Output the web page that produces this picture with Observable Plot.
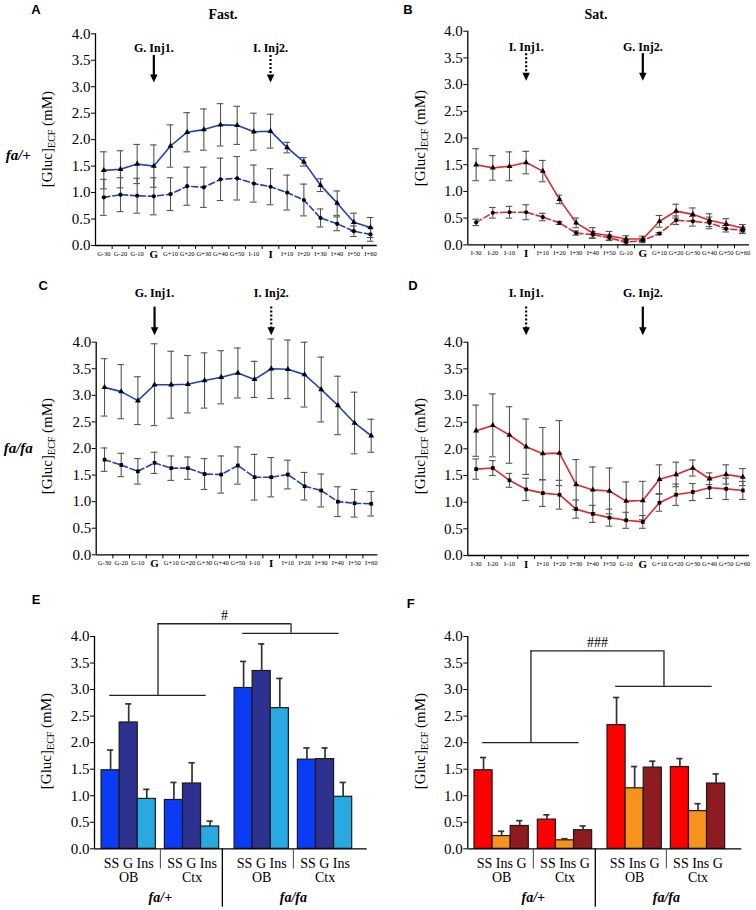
<!DOCTYPE html>
<html><head><meta charset="utf-8">
<script src="https://cdn.jsdelivr.net/npm/d3@7"></script>
<script src="https://cdn.jsdelivr.net/npm/@observablehq/plot@0.6"></script>
<style>
body{margin:0;background:#fff;}
#fig{position:relative;width:756px;height:910px;overflow:hidden;font-family:"Liberation Serif",serif;color:#000;}
#fig svg, #fig svg text{font-family:"Liberation Serif",serif !important;}
.pan{position:absolute;}
.lbl{position:absolute;white-space:nowrap;line-height:1;}
.letter{font-family:"Liberation Sans",Arial,sans-serif;font-weight:bold;font-size:13px;}
.ylab{font-size:15px;transform:translate(-50%,-50%) rotate(-90deg);}
.ylab sub{font-size:10px;vertical-align:-3px;}
</style></head><body><div id="fig"></div>
<script>
// ---------- data ----------
const fastLabels = ["G-30","G-20","G-10","G","G+10","G+20","G+30","G+40","G+50","I-10","I","I+10","I+20","I+30","I+40","I+50","I+60"];
const satLabels  = ["I-30","I-20","I-10","I","I+10","I+20","I+30","I+40","I+50","G-10","G","G+10","G+20","G+30","G+40","G+50","G+60"];

// A: fa/+ fasted
const aSolid     = [1.42,1.44,1.54,1.50,1.88,2.14,2.19,2.28,2.27,2.15,2.16,1.85,1.58,1.14,0.80,0.44,0.34];
const aSolidErr  = [0.35,0.35,0.37,0.40,0.40,0.37,0.39,0.40,0.36,0.35,0.32,0.10,0.08,0.12,0.23,0.17,0.19];
const aDashed    = [0.91,0.96,0.94,0.93,0.97,1.12,1.10,1.25,1.27,1.17,1.11,1.00,0.86,0.52,0.41,0.27,0.21];
const aDashedErr = [0.34,0.32,0.33,0.35,0.31,0.36,0.38,0.40,0.41,0.35,0.34,0.33,0.30,0.17,0.13,0.10,0.13];
// B: fa/+ satiated
const bSolid     = [1.50,1.44,1.47,1.54,1.38,0.85,0.41,0.22,0.17,0.11,0.11,0.44,0.63,0.57,0.46,0.39,0.31];
const bSolidErr  = [0.30,0.23,0.27,0.21,0.20,0.08,0.09,0.10,0.08,0.06,0.05,0.11,0.13,0.12,0.12,0.10,0.07];
const bDashed    = [0.42,0.60,0.61,0.61,0.52,0.41,0.22,0.19,0.13,0.05,0.08,0.21,0.46,0.44,0.41,0.30,0.27];
const bDashedErr = [0.06,0.10,0.11,0.14,0.07,0.03,0.04,0.06,0.05,0.05,0.04,0.02,0.08,0.09,0.11,0.06,0.06];
// C: fa/fa fasted
const cSolid     = [3.15,3.07,2.90,3.20,3.20,3.21,3.28,3.34,3.42,3.30,3.50,3.49,3.39,3.11,2.81,2.48,2.24];
const cSolidErr  = [0.54,0.51,0.45,0.77,0.63,0.54,0.52,0.50,0.47,0.34,0.56,0.55,0.61,0.61,0.55,0.58,0.31];
const cDashed    = [1.79,1.69,1.57,1.73,1.63,1.63,1.52,1.51,1.68,1.46,1.46,1.51,1.29,1.21,1.00,0.97,0.96];
const cDashedErr = [0.22,0.22,0.24,0.20,0.23,0.21,0.29,0.35,0.35,0.43,0.37,0.27,0.26,0.31,0.28,0.26,0.23];
// D: fa/fa satiated
const dUpper     = [2.34,2.44,2.26,2.04,1.91,1.92,1.33,1.23,1.21,1.02,1.03,1.43,1.52,1.64,1.44,1.52,1.47];
const dUpperErr  = [0.48,0.59,0.53,0.52,0.49,0.61,0.47,0.43,0.43,0.36,0.36,0.27,0.23,0.15,0.11,0.18,0.16];
const dLower     = [1.62,1.64,1.41,1.24,1.17,1.14,0.87,0.78,0.71,0.66,0.63,0.99,1.14,1.19,1.27,1.25,1.22];
const dLowerErr  = [0.19,0.14,0.13,0.21,0.25,0.27,0.17,0.16,0.16,0.15,0.12,0.16,0.20,0.16,0.20,0.20,0.17];

const fastEvents = [{i:3, text:"G. Inj1.", dotted:false}, {i:10, text:"I. Inj2.", dotted:true}];
const satEvents  = [{i:3, text:"I. Inj1.", dotted:true},  {i:10, text:"G. Inj2.", dotted:false}];

// E / F bars (order: fa/+ OB, fa/+ Ctx, fa/fa OB, fa/fa Ctx; conditions within)
const genotypes = ["fa/+","fa/fa"];
const regions = ["OB","Ctx"];
const eConds = ["SS","G","Ins"];
const eMean = [1.48,2.38,0.94, 0.92,1.23,0.42, 3.03,3.35,2.65, 1.68,1.69,0.98];
const eSem  = [0.38,0.35,0.18, 0.33,0.39,0.10, 0.50,0.51,0.56, 0.22,0.21,0.27];
const fConds = ["SS","Ins","G"];
const fMean = [1.48,0.24,0.43, 0.55,0.16,0.35, 2.33,1.14,1.53, 1.54,0.71,1.23];
const fSem  = [0.24,0.09,0.10, 0.09,0.03,0.08, 0.52,0.41,0.12, 0.16,0.14,0.18];
const eColors = ["#0a3cf5","#2d3190","#28a9e1"];
const fColors = ["#fe0000","#f6921e","#8e1b20"];
const eSig = "#"; const fSig = "###";

// ---------- helpers ----------
const fig = document.getElementById("fig");
const yTicks = d3.range(0, 4.001, 0.5);
const fmt = d3.format(".1f");
const FF = "Liberation Serif, serif";
const baseStyle = {fontFamily:FF, fontSize:"15px", background:"transparent", overflow:"visible", color:"#000"};
const downTriangle = {draw(ctx, size){const r=Math.sqrt(size/Math.PI);const w=1.25*r,h=2.7*r;ctx.moveTo(0,0);ctx.lineTo(-w,-h);ctx.lineTo(w,-h);ctx.closePath();}};

function place(el, left, top){const d=document.createElement("div");d.className="pan";d.style.left=left+"px";d.style.top=top+"px";d.appendChild(el);fig.appendChild(d);}
function label(html, x, y, cls, css){const d=document.createElement("div");d.className="lbl "+(cls||"");d.innerHTML=html;d.style.left=x+"px";d.style.top=y+"px";if(!cls||cls.indexOf("ylab")<0)d.style.transform="translate(-50%,-50%)";Object.assign(d.style,css||{});fig.appendChild(d);}

function linePanel(c){
  const n = c.labels.length;
  const s1 = c.s1.map((v,i)=>({i,v,e:c.e1[i]}));
  const s2 = c.s2.map((v,i)=>({i,v,e:c.e2[i]}));
  const lab = c.labels.map((t,i)=>({i,t}));
  const big = d => d.t==="G"||d.t==="I";
  const err = (data) => [
    Plot.ruleX(data,{x:"i",y1:d=>d.v-d.e,y2:d=>d.v+d.e,stroke:"#555",strokeWidth:1.1}),
    Plot.ruleY(data,{y:d=>d.v+d.e,x1:d=>d.i-0.2,x2:d=>d.i+0.2,stroke:"#555",strokeWidth:1.1}),
    Plot.ruleY(data,{y:d=>d.v-d.e,x1:d=>d.i-0.2,x2:d=>d.i+0.2,stroke:"#555",strokeWidth:1.1})
  ];
  const ev = c.events;
  return Plot.plot({
    width:378, height:c.height, marginTop:c.mt, marginBottom:c.mb, marginLeft:c.ml, marginRight:c.mr,
    x:{domain:[-0.5, n-0.6], axis:null}, y:{domain:[0,4], axis:null},
    style: baseStyle,
    marks:[
      ...err(s1), ...err(s2),
      Plot.line(s1,{x:"i",y:"v",stroke:c.color,strokeWidth:1.6}),
      Plot.line(s2,{x:"i",y:"v",stroke:c.color,strokeWidth:1.6,strokeDasharray:c.dash2?"6,3":null}),
      Plot.dot(s1,{x:"i",y:"v",symbol:c.sym1,r:2.2,fill:"black"}),
      Plot.dot(s2,{x:"i",y:"v",symbol:c.sym2,r:2.1,fill:"black"}),
      Plot.ruleX([-0.5],{strokeWidth:1.3}),
      Plot.ruleY([0],{strokeWidth:1.3}),
      Plot.axisY({ticks:yTicks,tickFormat:fmt,tickSize:4,tickPadding:1,label:null,fontFamily:FF,fontSize:15}),
      Plot.axisX({ticks:d3.range(0.5,n-1,1),tickSize:4,tickFormat:()=>"",label:null}),
      Plot.text(lab.filter(d=>!big(d)),{x:"i",y:0,dy:8,text:"t",fontSize:6.5,fontFamily:FF}),
      Plot.text(lab.filter(big),{x:"i",y:0,dy:8.5,text:"t",fontSize:11,fontWeight:"bold",fontFamily:FF}),
      Plot.ruleX(ev.filter(d=>!d.dotted),{x:"i",y1:c.arTop,y2:c.arTip+0.1,strokeWidth:2.2}),
      Plot.ruleX(ev.filter(d=>d.dotted),{x:"i",y1:c.arTop,y2:c.arTip+0.1,strokeWidth:2.2,strokeDasharray:"2,2"}),
      Plot.dot(ev,{x:"i",y:c.arTip,symbol:downTriangle,r:3,fill:"black",stroke:"none"}),
      Plot.text(ev,{x:"i",y:c.txtY,text:"text",fontWeight:"bold",fontSize:12,fontFamily:FF})
    ]
  });
}

function barPanel(c){
  const GR=0.5, GG=0.85;
  const bars=[], groups=[], genos=[];
  genotypes.forEach((g,gi)=>{
    const gStart = gi*(6+GR+GG);
    genos.push({g, start:gStart, center:gStart+3.25});
    regions.forEach((r,ri)=>{
      const rStart = gStart + ri*(3+GR);
      groups.push({r, center:rStart+1.5, conds:c.conds.join(" ")});
      c.conds.forEach((cd,ci)=>{
        const k = gi*6+ri*3+ci;
        bars.push({x1:rStart+ci, x2:rStart+ci+1, ci, v:c.mean[k], e:c.sem[k]});
      });
    });
  });
  const xmin=c.domain[0];
  const shortSep = genos.map(d=>d.start+3.25);
  const longSep = [(genos[0].start+6+genos[1].start)/2];
  const brLines = genos.map((d,i)=>({x1:d.start+0.45, x2:d.start+5.78, mid:d.start+3.12, y:c.brY[i]}));
  const sigMid = (brLines[0].mid+brLines[1].mid)/2;
  return Plot.plot({
    width:378, height:340, marginTop:66, marginBottom:61.7, marginLeft:c.ml, marginRight:c.mr,
    x:{domain:c.domain, axis:null}, y:{domain:[0,4], axis:null}, color:{type:"identity"},
    style: baseStyle,
    marks:[
      Plot.rectY(bars,{x1:"x1",x2:"x2",y1:0,y2:"v",fill:d=>c.colors[d.ci],stroke:"#1a1a1a",strokeWidth:1.2}),
      Plot.ruleX(bars,{x:d=>(d.x1+d.x2)/2,y1:"v",y2:d=>d.v+d.e,stroke:"#333",strokeWidth:1.7}),
      Plot.ruleY(bars,{y:d=>d.v+d.e,x1:d=>(d.x1+d.x2)/2-0.17,x2:d=>(d.x1+d.x2)/2+0.17,stroke:"#333",strokeWidth:1.7}),
      Plot.ruleX([xmin],{strokeWidth:1.3}),
      Plot.ruleY([0],{strokeWidth:1.3}),
      Plot.axisY({ticks:yTicks,tickFormat:fmt,tickSize:4,tickPadding:1,label:null,fontFamily:FF,fontSize:15}),
      Plot.ruleX(shortSep,{y1:0,y2:-0.38,strokeWidth:1,stroke:"#444"}),
      Plot.ruleX(longSep,{y1:0,y2:-1.1,strokeWidth:1.3}),
      Plot.text(groups,{x:"center",y:0,dy:15,text:"conds",fontSize:14,fontFamily:FF}),
      Plot.text(groups,{x:"center",y:0,dy:29,text:"r",fontSize:14,fontFamily:FF}),
      Plot.text(genos,{x:"center",y:0,dy:48.5,text:"g",fontSize:14,fontWeight:"bold",fontStyle:"italic",fontFamily:FF}),
      // significance bracket
      Plot.ruleY(brLines,{y:"y",x1:"x1",x2:"x2",strokeWidth:1.3,stroke:"#222"}),
      Plot.ruleX(brLines,{x:"mid",y1:"y",y2:c.brTop,strokeWidth:1.3,stroke:"#222"}),
      Plot.ruleY([c.brTop],{x1:brLines[0].mid,x2:brLines[1].mid,strokeWidth:1.3,stroke:"#222"}),
      Plot.text([c.sig],{x:sigMid,y:c.sigY,text:d=>d,fontSize:14,fontFamily:FF})
    ]
  });
}

// ---------- panels ----------
place(linePanel({labels:fastLabels,s1:aSolid,e1:aSolidErr,s2:aDashed,e2:aDashedErr,color:"#1f3fbf",dash2:true,sym1:"triangle",sym2:"circle",
  events:fastEvents,arTop:3.59,arTip:3.08,txtY:3.73,height:270,mt:33.3,mb:25,ml:95,mr:1.3}),0,0);
place(linePanel({labels:satLabels,s1:bSolid,e1:bSolidErr,s2:bDashed,e2:bDashedErr,color:"#e3262a",dash2:true,sym1:"triangle",sym2:"circle",
  events:satEvents,arTop:3.58,arTip:3.07,txtY:3.70,height:270,mt:30.7,mb:25.7,ml:89.3,mr:7}),378,0);
place(linePanel({labels:fastLabels,s1:cSolid,e1:cSolidErr,s2:cDashed,e2:cDashedErr,color:"#1f3fbf",dash2:true,sym1:"triangle",sym2:"square",
  events:fastEvents,arTop:4.66,arTip:4.13,txtY:4.92,height:300,mt:71.7,mb:15.7,ml:95.7,mr:0.6}),0,270);
place(linePanel({labels:satLabels,s1:dUpper,e1:dUpperErr,s2:dLower,e2:dLowerErr,color:"#e3262a",dash2:false,sym1:"triangle",sym2:"square",
  events:satEvents,arTop:4.66,arTip:4.13,txtY:4.92,height:300,mt:71.7,mb:15,ml:89.3,mr:7}),378,270);
place(barPanel({conds:eConds,mean:eMean,sem:eSem,colors:eColors,domain:[-0.39,14.68],ml:94,mr:11.3,brY:[2.89,4.06],brTop:4.24,sig:eSig,sigY:4.39}),0,570);
place(barPanel({conds:fConds,mean:fMean,sem:fSem,colors:fColors,domain:[-0.37,14.77],ml:89.3,mr:14.7,brY:[2.0,3.06],brTop:3.73,sig:fSig,sigY:3.89}),378,570);

// ---------- text overlays ----------
label("A",36,8.5,"letter"); label("B",408,8.5,"letter"); label("C",43.3,285,"letter");
label("D",413,285,"letter"); label("E",36,599,"letter"); label("F",410.7,603,"letter");
label("Fast.",223,15,"",{fontWeight:"bold",fontSize:"14px"});
label("Sat.",596,15,"",{fontWeight:"bold",fontSize:"14px"});
label("fa/+",18.3,155,"",{fontWeight:"bold",fontStyle:"italic",fontSize:"15px"});
label("fa/fa",18.3,448,"",{fontWeight:"bold",fontStyle:"italic",fontSize:"15px"});
const yl = "[Gluc]<sub>ECF</sub> (mM)";
[[48.3,138.5],[421.3,138],[48.3,446],[421.3,446],[46.7,741],[421.3,741]].forEach(([x,y])=>label(yl,x,y,"ylab"));
</script>
</body></html>
